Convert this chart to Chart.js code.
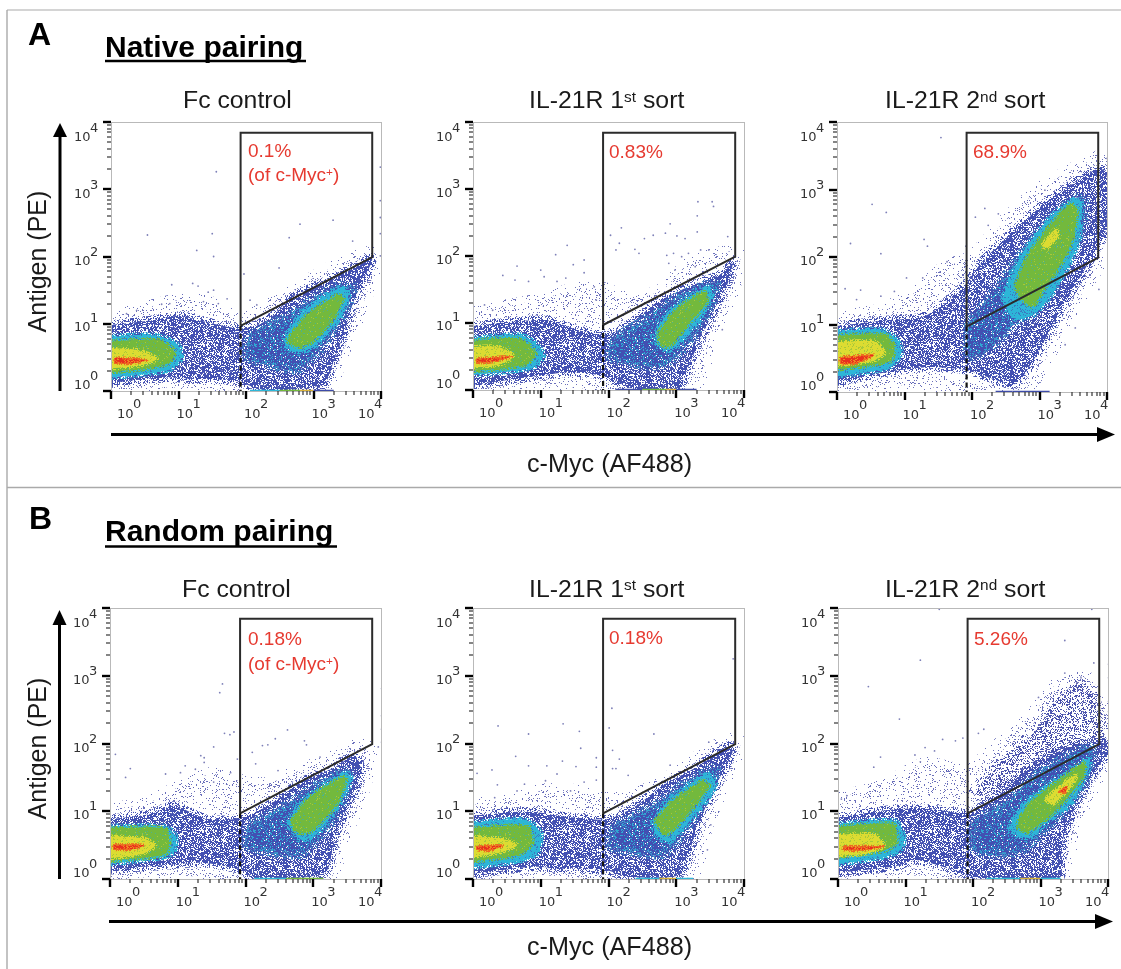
<!DOCTYPE html>
<html>
<head>
<meta charset="utf-8">
<script src="https://cdn.jsdelivr.net/npm/chart.js@4"></script>
<style>
html,body{margin:0;padding:0;background:#fff;}
body{width:1121px;height:969px;position:relative;overflow:hidden;font-family:"Liberation Sans",Arial,sans-serif;}
#stage{position:absolute;left:0;top:0;width:1121px;height:969px;filter:blur(0.55px);}
canvas{position:absolute;}
.t{position:absolute;white-space:nowrap;line-height:1em;color:#1a1a1a;}
.t sup{font-size:.62em;line-height:0;vertical-align:baseline;position:relative;top:-.42em;}
.red{color:#e63a30;}
.b{font-weight:bold;color:#000;}
svg{position:absolute;left:0;top:0;}
</style>
</head>
<body>
<div id="stage"></div>
<script>
const axisMajorTicks = [1, 10, 100, 1000, 10000];
const axisMinorSteps = [2, 3, 4, 5, 6, 7, 8, 9];
const tickExponentLabels = ['0', '1', '2', '3', '4'];
const gateOutline = [[1.92,0.97],[1.92,3.84],[3.87,3.84],[3.87,1.99],[1.92,0.97]];
const gateDashed = [[1.92,0.97],[1.92,0]];

// Panel A1: Fc control, native pairing
const a1Sparse = [[-0.5,0.97],[0.4,1.2],[1,1.35],[1.5,1.3],[1.9,1.05],[2.2,1.2],[2.7,1.5],[3.3,1.85],[3.8,2.05],[3.95,2],[3.7,1.2],[3.4,0.5],[3.2,0.02],[2,0],[1.2,0.05],[0.5,0.05],[-0.5,0.05]];
const a1Blue = [[-0.5,0.93],[0.58,1.05],[1.02,1.12],[1.32,1.05],[1.92,0.93],[2.31,1.05],[2.71,1.4],[3.3,1.69],[3.7,1.89],[3.87,1.99],[3.85,1.89],[3.6,1.35],[3.45,0.85],[3.3,0.45],[3.15,0.1],[2.31,0.01],[1.96,0.11],[1.82,0.16],[1.22,0.18],[0.83,0.2],[-0.5,0.16]];
const a1Mid = [[2.05,0.85],[2.65,1.15],[3.3,1.55],[3.6,1.55],[3.4,1.05],[3.05,0.55],[2.75,0.3],[2.3,0.4],[2,0.5]];
const a1CyanL = [[-0.5,0.78],[0.63,0.83],[0.98,0.7],[1.05,0.5],[0.83,0.3],[-0.5,0.23]];
const a1GreenL = [[-0.5,0.7],[0.68,0.76],[0.93,0.6],[0.88,0.43],[0.48,0.33],[-0.5,0.3]];
const a1YellowL = [[-0.5,0.62],[0.33,0.62],[0.68,0.48],[0.43,0.38],[-0.5,0.34]];
const a1RedL = [[0.06,0.5],[0.53,0.46],[0.33,0.41],[0.06,0.42]];
const a1CyanR = [[2.56,0.75],[2.81,1.15],[3.4,1.54],[3.52,1.45],[3.4,1.1],[3.05,0.7],[2.81,0.58],[2.6,0.65]];
const a1GreenR = [[2.61,0.75],[2.9,1.12],[3.35,1.42],[3.44,1.38],[3.3,1.08],[2.96,0.72],[2.76,0.66]];
const a1Dots = [[1.56,3.26],[0.54,2.32],[1.5,2.34],[1.27,2.09],[1.52,2],[0.9,1.58],[1.21,1.6],[1.29,1.56],[1.97,1.74],[2.49,1.83],[2.64,2.28],[2.8,2.48],[3.29,2.54],[3.58,2.23],[3.99,3.33],[3.99,2.83],[3.99,2.58],[3.99,2.34],[3.99,2.01],[1.52,1.5],[1.44,1.47],[0.75,1.29],[0.87,1.3],[1.72,1.37],[2.06,1.35],[2.16,1.28],[0.23,1.15],[0.38,1.2],[1.37,1.33],[1.59,1.3]];
const a1Strip = [[2.06,0,'#2fb8d8'],[2.5,0,'#73b83d'],[2.8,0,'#d9b23a'],[3,0,'#3d4ba8'],[3.3,0,'#3d4ba8']];

// Panel A2: IL-21R 1st sort, native pairing
const a2Sparse = [[-0.5,1.1],[0.5,1.25],[1,1.35],[1.5,1.5],[1.95,1.5],[2.3,1.35],[2.8,1.5],[3.2,1.9],[3.7,2.05],[3.95,2.05],[3.8,1.4],[3.5,0.8],[3.3,0.1],[2,0],[1,0.08],[-0.5,0.05]];
const a2Blue = [[-0.5,0.9],[0.6,1.02],[1.09,1.04],[1.54,0.9],[1.97,0.82],[2.39,1.04],[2.69,1.29],[3.18,1.54],[3.68,1.74],[3.83,1.89],[3.76,1.59],[3.58,1.24],[3.33,0.7],[3.18,0.35],[3.03,0.02],[2.39,0.01],[1.97,0.2],[1.44,0.27],[0.9,0.2],[-0.5,0.1]];
const a2Mid = [[2.1,0.8],[2.6,1.1],[3.1,1.45],[3.6,1.6],[3.45,1.1],[3.1,0.6],[2.8,0.35],[2.3,0.4],[2,0.5]];
const a2CyanL = [[-0.5,0.72],[0.7,0.82],[0.97,0.65],[1.04,0.5],[0.85,0.32],[-0.5,0.25]];
const a2GreenL = [[-0.5,0.67],[0.65,0.77],[0.92,0.55],[0.75,0.37],[-0.5,0.3]];
const a2YellowL = [[-0.5,0.6],[0.35,0.65],[0.6,0.5],[0.35,0.37],[-0.5,0.35]];
const a2RedL = [[0.06,0.47],[0.57,0.5],[0.3,0.42],[0.06,0.41]];
const a2CyanR = [[2.69,0.85],[2.91,1.19],[3.48,1.54],[3.53,1.39],[3.23,0.9],[2.91,0.6],[2.74,0.65]];
const a2GreenR = [[2.74,0.85],[2.99,1.19],[3.41,1.46],[3.45,1.31],[3.13,0.93],[2.89,0.65],[2.76,0.7]];
const a2Dots = [[3.32,2.81],[3.53,2.81],[3.55,2.74],[3.31,2.6],[2.91,2.48],[2.19,2.42],[2.03,2.31],[2.16,2.19],[2.11,2.09],[2.39,2.1],[2.45,2.04],[2.53,2.26],[2.66,2.31],[2.84,2.34],[3.01,2.3],[3.13,2.26],[3.31,2.36],[3.76,2.29],[1.39,2.16],[1.22,2.02],[1,1.79],[0.65,1.85],[0.44,1.71],[0.82,1.62],[0.62,1.64],[1.05,1.69],[1.24,1.62],[1.37,1.67],[1.48,1.87],[1.64,1.94],[1.64,1.75],[1.79,1.54],[1.82,1.34],[0.29,1.19],[0.17,1.27],[4.02,2.99],[4.02,2.51],[4.02,2.39],[4.02,2.24],[4.02,2.04],[2.86,2.01],[2.96,2.04],[3.08,1.99],[3.18,2.04],[3.36,2.09],[3.48,2.09],[3.28,1.84],[2.98,1.79],[2.89,1.89],[3.68,0.9]];
const a2Strip = [[2.1,0,'#3d4ba8'],[2.5,0,'#73b83d'],[2.85,0,'#d9b23a'],[3,0,'#3d4ba8'],[3.3,0,'#3d4ba8']];

// Panel A3: IL-21R 2nd sort, native pairing
const a3Sparse = [[-0.5,1.05],[0.6,1.2],[1.2,1.5],[1.6,1.85],[2,2],[2.5,2.55],[3,3],[3.5,3.3],[3.95,3.5],[4.05,3.4],[4.05,2.2],[3.7,1.6],[3.4,1],[3.1,0.5],[2.8,0.05],[2,0.02],[1,0.1],[-0.5,0.05]];
const a3Blue = [[-0.5,0.92],[0.8,1.07],[1.29,1.12],[1.84,1.52],[2.14,1.92],[2.54,2.31],[3.03,2.76],[3.53,3.11],[3.88,3.31],[4.03,3.2],[4.03,2.51],[3.73,1.92],[3.43,1.42],[3.13,0.87],[2.94,0.52],[2.64,0.12],[2.24,0.22],[1.94,0.32],[1.39,0.37],[0.9,0.32],[-0.5,0.15]];
const a3Mid = [[1.94,1.02],[2.34,1.52],[2.89,2.26],[3.48,2.86],[3.68,2.86],[3.63,2.41],[3.38,1.82],[3.03,1.32],[2.64,1.02],[2.24,0.62],[1.94,0.52]];
const a3CyanL = [[-0.5,0.87],[0.65,0.92],[0.9,0.77],[0.95,0.57],[0.75,0.35],[-0.5,0.25]];
const a3GreenL = [[-0.5,0.8],[0.7,0.85],[0.85,0.67],[0.77,0.45],[-0.5,0.35]];
const a3YellowL = [[-0.5,0.7],[0.55,0.75],[0.7,0.57],[0.5,0.45],[-0.5,0.4]];
const a3RedL = [[0.05,0.52],[0.55,0.55],[0.3,0.43],[0.05,0.42]];
const a3CyanR = [[2.45,1.4],[2.72,2],[3.15,2.58],[3.5,2.85],[3.62,2.8],[3.57,2.2],[3.25,1.55],[2.92,1.15],[2.6,1.1]];
const a3GreenR = [[2.64,1.57],[2.84,2.03],[3.23,2.55],[3.45,2.78],[3.55,2.72],[3.5,2.3],[3.35,1.95],[3.08,1.55],[2.89,1.27],[2.71,1.42]];
const a3YellowR = [[3.03,2.16],[3.23,2.41],[3.28,2.31],[3.13,2.14]];
const a3Dots = [[1.54,3.77],[0.52,2.78],[0.73,2.66],[0.2,2.2],[0.65,2.05],[1.29,2.26],[1.34,2.16],[1.63,1.93],[2.19,2.72],[2.05,2.59],[2.39,2.64],[2.24,2.47],[3.08,2.99],[1.91,2.16],[1.03,1.69],[1.27,1.69],[0.35,1.51],[0.12,1.53],[0.29,1.37],[0.65,1.42],[0.85,1.49],[4,3.46],[4,3.2],[4,2.85],[4,2.56],[3.88,1.52],[3.53,0.95],[3.38,0.7]];
const a3Strip = [[2.35,0,'#3d4ba8'],[2.6,0,'#3d4ba8'],[3.15,0,'#3d4ba8']];

// Panel B1: Fc control, random pairing
const b1Sparse = [[-0.5,1],[0.5,1.1],[1,1.35],[1.5,1.55],[1.9,1.45],[2.3,1.4],[2.8,1.6],[3.3,1.8],[3.65,1.97],[3.85,1.9],[3.7,1.2],[3.4,0.5],[3.25,0.02],[2,0],[1,0.05],[-0.5,0.05]];
const b1Blue = [[-0.5,0.83],[0.6,0.96],[0.94,1.08],[1.44,0.88],[1.93,0.9],[2.33,1.08],[2.82,1.43],[3.32,1.65],[3.61,1.82],[3.71,1.57],[3.51,1.08],[3.32,0.63],[3.17,0.09],[2.13,0.01],[1.93,0.14],[1.34,0.24],[0.6,0.19],[-0.5,0.16]];
const b1Mid = [[2.05,0.8],[2.6,1.1],[3.2,1.5],[3.55,1.6],[3.4,1.05],[3.1,0.6],[2.8,0.35],[2.3,0.4],[2,0.5]];
const b1CyanL = [[-0.5,0.76],[0.8,0.78],[0.97,0.63],[0.94,0.39],[0.6,0.29],[-0.5,0.24]];
const b1GreenL = [[-0.5,0.71],[0.82,0.74],[0.84,0.39],[0.45,0.31],[-0.5,0.29]];
const b1YellowL = [[-0.5,0.63],[0.45,0.61],[0.67,0.5],[0.45,0.36],[-0.5,0.31]];
const b1RedL = [[0.05,0.51],[0.5,0.5],[0.35,0.44],[0.05,0.44]];
const b1CyanR = [[2.62,0.81],[2.82,1.13],[3.47,1.57],[3.56,1.48],[3.37,1.08],[3.02,0.63],[2.82,0.58]];
const b1GreenR = [[2.67,0.83],[2.92,1.18],[3.47,1.5],[3.36,1.13],[2.97,0.71],[2.77,0.69]];
const b1Dots = [[1.66,2.88],[1.62,2.75],[0.08,1.84],[0.3,1.63],[0.23,1.5],[1.69,2.15],[1.77,2.13],[1.83,2.17],[1.53,1.95],[1.34,1.82],[1.39,1.79],[1.11,1.67],[1.26,1.62],[1.39,1.72],[2.62,2.2],[2.44,2.07],[2.25,1.97],[2.33,1.98],[2.1,1.87],[2.15,1.7],[2.87,2.04],[2.9,1.98],[3.1,1.8],[2.48,1.6],[4.01,2.81],[4.01,2.41],[4.01,2.21],[4.01,2.02],[3.96,1.95],[0.82,1.55],[1.04,1.57],[1.78,1.57],[1.88,1.77],[1.53,1.43]];
const b1Strip = [[2.13,0,'#2fb8d8'],[2.6,0,'#73b83d'],[2.95,0,'#73b83d'],[3.15,0,'#2fb8d8']];

// Panel B2: IL-21R 1st sort, random pairing
const b2Sparse = [[-0.5,1.05],[0.5,1.15],[1,1.3],[1.5,1.3],[1.95,1.2],[2.4,1.25],[2.9,1.5],[3.4,1.85],[3.8,2.05],[3.95,2],[3.7,1.4],[3.45,0.8],[3.2,0.03],[2,0],[1,0.05],[-0.5,0.03]];
const b2Blue = [[-0.5,0.88],[0.8,1],[1.29,0.93],[1.97,0.88],[2.39,1.07],[2.79,1.37],[3.33,1.67],[3.78,1.97],[3.83,1.87],[3.63,1.47],[3.33,0.83],[3.03,0.05],[2.29,0.03],[1.97,0.13],[1.34,0.15],[0.9,0.18],[-0.5,0.1]];
const b2Mid = [[2.1,0.8],[2.6,1.05],[3.1,1.4],[3.6,1.65],[3.4,1.1],[3.05,0.6],[2.8,0.35],[2.3,0.4],[2,0.5]];
const b2CyanL = [[-0.5,0.78],[0.75,0.88],[1,0.68],[0.95,0.38],[0.6,0.25],[-0.5,0.2]];
const b2GreenL = [[-0.5,0.7],[0.8,0.78],[0.87,0.53],[0.65,0.35],[-0.5,0.28]];
const b2YellowL = [[-0.5,0.63],[0.4,0.6],[0.65,0.5],[0.35,0.38],[-0.5,0.3]];
const b2RedL = [[0.06,0.49],[0.45,0.49],[0.25,0.42],[0.06,0.43]];
const b2CyanR = [[2.66,0.83],[2.89,1.17],[3.48,1.55],[3.58,1.37],[3.18,0.83],[2.89,0.55],[2.69,0.68]];
const b2GreenR = [[2.69,0.85],[2.94,1.14],[3.38,1.44],[3.48,1.37],[3.08,0.86],[2.84,0.66]];
const b2Dots = [[3.84,3.25],[2.05,2.52],[2.01,2.23],[0.37,2.26],[1.33,2.29],[0.82,2.14],[1.57,2.18],[2.67,2.14],[1.59,1.93],[0.63,1.81],[0.28,1.61],[0.06,1.56],[0.82,1.67],[1.09,1.67],[1.32,1.74],[1.52,1.66],[1.82,1.79],[2.16,1.77],[2.06,1.9],[2.06,1.63],[2.11,1.63],[2.29,1.53],[2.91,1.68],[3.48,2.02],[4.03,2.92],[4.03,2.42],[4.03,2.22],[4.03,2.07],[3.51,0.8],[3.46,0.43],[0.36,1.39],[0.76,1.4],[1.07,1.45],[1.24,1.55],[1.64,1.43],[1.82,1.46],[1.82,1.65],[1.44,1.3],[0.65,1.3],[0.32,1.2]];
const b2Strip = [[2.4,0,'#2fb8d8'],[2.75,0,'#d9b23a'],[3,0,'#2fb8d8'],[3.25,0,'#2fb8d8']];

// Panel B3: IL-21R 2nd sort, random pairing
const b3Sparse = [[-0.5,1.1],[0.6,1.35],[1.3,1.7],[1.9,1.6],[2.4,2],[2.9,2.45],[3.3,2.95],[3.65,3],[3.9,2.6],[4.05,2.1],[3.8,1.4],[3.55,0.9],[3.4,0.3],[3.3,0.02],[2,0],[1.3,0.05],[0.5,0.05],[-0.5,0.05]];
const b3Upper = [[2,1.25],[2.4,1.75],[2.9,2.15],[3.2,2.6],[3.55,2.9],[3.75,2.8],[3.85,2.45],[3.95,2],[3.3,1.85],[2.7,1.5],[2.3,1.25]];
const b3Blue = [[-0.5,0.83],[0.83,1.03],[1.38,1.03],[1.93,0.98],[2.37,1.23],[2.72,1.53],[3.37,1.93],[3.92,2.02],[4.04,1.93],[3.77,1.53],[3.52,1.08],[3.32,0.53],[3.27,0.01],[2.12,0.01],[1.63,0.16],[1.13,0.28],[0.83,0.18],[-0.5,0.13]];
const b3Mid = [[1.98,0.85],[2.5,1.15],[3,1.6],[3.75,1.95],[3.7,1.5],[3.35,1],[3,0.65],[2.7,0.4],[2.3,0.35],[2,0.45]];
const b3CyanL = [[-0.5,0.76],[0.83,0.86],[0.98,0.63],[0.93,0.43],[0.63,0.31],[-0.5,0.23]];
const b3GreenL = [[-0.5,0.71],[0.81,0.81],[0.86,0.53],[0.63,0.41],[-0.5,0.33]];
const b3YellowL = [[-0.5,0.61],[0.53,0.66],[0.68,0.48],[0.33,0.36],[-0.5,0.38]];
const b3RedL = [[0.08,0.48],[0.68,0.48],[0.33,0.42],[0.08,0.43]];
const b3CyanR = [[2.52,0.76],[2.77,1.13],[3.42,1.58],[3.72,1.78],[3.72,1.63],[3.42,1.08],[3.07,0.83],[2.85,0.61],[2.62,0.66]];
const b3GreenR = [[2.65,0.78],[2.82,1.1],[3.37,1.52],[3.64,1.72],[3.64,1.53],[3.32,1.11],[2.92,0.76],[2.77,0.69]];
const b3YellowR = [[3.07,1.18],[3.42,1.48],[3.54,1.53],[3.42,1.33],[3.17,1.1]];
const b3RedR = [[3.27,1.3],[3.39,1.37],[3.37,1.28],[3.29,1.27]];
const b3Dots = [[1.5,3.98],[3.76,3.98],[1.22,3.23],[0.45,2.84],[0.91,2.36],[3.36,3.52],[3.79,3.19],[3.36,3.04],[2.97,2.68],[2.16,2.21],[2.08,2.15],[1.55,2.06],[1.74,2.04],[1.85,2.08],[1.43,1.89],[1.29,1.94],[1.14,1.83],[1.22,1.73],[0.63,1.8],[0.53,1.65],[4.01,3.17],[4.01,2.97],[4.01,2.62],[4.01,2.47],[4.03,2.22],[3.54,2.9],[3.6,2.97],[0.05,1.18],[0.13,1.23],[3.57,0.98],[3.48,0.68]];
const b3Strip = [[2.2,0,'#2fb8d8'],[2.7,0,'#d9b23a'],[3,0,'#2fb8d8'],[3.3,0,'#2fb8d8']];

const panelLayers = [
  {sparse:a1Sparse,blue:a1Blue,mid:a1Mid,cyan:[a1CyanL,a1CyanR],green:[a1GreenL,a1GreenR],yellow:[a1YellowL],red:[a1RedL],dots:a1Dots,strip:a1Strip},
  {sparse:a2Sparse,blue:a2Blue,mid:a2Mid,cyan:[a2CyanL,a2CyanR],green:[a2GreenL,a2GreenR],yellow:[a2YellowL],red:[a2RedL],dots:a2Dots,strip:a2Strip},
  {sparse:a3Sparse,blue:a3Blue,mid:a3Mid,cyan:[a3CyanL,a3CyanR],green:[a3GreenL,a3GreenR],yellow:[a3YellowL,a3YellowR],red:[a3RedL],dots:a3Dots,strip:a3Strip},
  {sparse:b1Sparse,blue:b1Blue,mid:b1Mid,cyan:[b1CyanL,b1CyanR],green:[b1GreenL,b1GreenR],yellow:[b1YellowL],red:[b1RedL],dots:b1Dots,strip:b1Strip},
  {sparse:b2Sparse,blue:b2Blue,mid:b2Mid,cyan:[b2CyanL,b2CyanR],green:[b2GreenL,b2GreenR],yellow:[b2YellowL],red:[b2RedL],dots:b2Dots,strip:b2Strip},
  {sparse:b3Sparse,upper:b3Upper,blue:b3Blue,mid:b3Mid,cyan:[b3CyanL,b3CyanR],green:[b3GreenL,b3GreenR],yellow:[b3YellowL,b3YellowR],red:[b3RedL,b3RedR],dots:b3Dots,strip:b3Strip}
];

// Layout only
const plotBoxes = [
  [111,122,270,269],[473,122,271,268],[837,122,270,270],
  [110,608,271,271],[473,608,271,271],[838,608,270,271]
];
const PAD = {left:50, right:15, top:15, bottom:50};

// Stipple textures (style only): a fixed integer mix decides which pixels of a tile get a fleck.
let tileSeed = 1;
function speckle(base, flecks){
  const S = 127, c = document.createElement('canvas'); c.width = c.height = S;
  const g = c.getContext('2d');
  if (base){ g.fillStyle = base; g.fillRect(0,0,S,S); }
  const seed = tileSeed++;
  for (let y=0;y<S;y++) for (let x=0;x<S;x++){
    let h = Math.imul(x+1, 73856093) ^ Math.imul(y+1, 19349663) ^ Math.imul(seed, 83492791);
    h ^= h>>>16; h = Math.imul(h, 2246822507); h ^= h>>>13; h = Math.imul(h, 3266489909); h ^= h>>>16;
    const u = (h>>>0)/4294967296;
    let acc = 0;
    for (const [col, d] of flecks){ acc += d; if (u < acc){ g.fillStyle = col; g.fillRect(x,y,1,1); break; } }
  }
  return g.createPattern(c,'repeat');
}
const fills = {
  sparse: speckle(null,[['rgba(70,76,170,0.8)',0.09]]),
  upper: speckle(null,[['rgba(62,72,168,0.95)',0.3]]),
  blue: speckle(null,[['#4250b2',0.62]]),
  mid: speckle('#4250b2',[['#2fa9d4',0.2],['#ffffff',0.05]]),
  cyan: speckle('#2db6d8',[['#3c78c0',0.14]]),
  green: speckle('#73b93d',[['#4fb38a',0.06],['#a8c83a',0.04]]),
  yellow: speckle('#dcdc32',[['#a8c83a',0.14]]),
  red: speckle('#e8301e',[['#f08a20',0.2]])
};
const edges = {
  sparse: speckle(null,[['rgba(70,76,170,0.8)',0.04]]),
  upper: speckle(null,[['rgba(62,72,168,0.9)',0.14]]),
  blue: speckle(null,[['#4250b2',0.3]]),
  mid: speckle(null,[['#3f8fc8',0.22]]),
  cyan: speckle(null,[['#2db6d8',0.45]]),
  green: speckle(null,[['#73b93d',0.45]]),
  yellow: speckle(null,[['#dcdc32',0.4]]),
  red: speckle(null,[['#ee6a20',0.5]])
};
const edgeWidths = {sparse:14, upper:12, blue:9, mid:8, cyan:5, green:5, yellow:4, red:3};

const pts = a => a.map(([x,y]) => ({x:10**x, y:10**y}));
const shape = (poly, kind) => ({data:pts(poly.concat([poly[0]])), showLine:true, fill:'shape', backgroundColor:fills[kind], borderColor:edges[kind], borderWidth:edgeWidths[kind], pointRadius:0, tension:0.25});
const line = (poly, color, width, dash) => ({data:pts(poly), showLine:true, fill:false, borderColor:color, borderWidth:width, borderDash:dash||[], pointRadius:0, tension:0});

const axisFrame = {
  id:'axisFrame',
  afterDraw(chart){
    const {ctx, chartArea:a, scales:{x, y}} = chart;
    ctx.save();
    ctx.strokeStyle = '#b9b9b9'; ctx.lineWidth = 1;
    ctx.strokeRect(a.left+.5, a.top+.5, a.right-a.left, a.bottom-a.top);
    x.ticks.forEach(t => {
      const px = Math.round(x.getPixelForValue(t.value));
      ctx.lineWidth = t.major ? 2.4 : 1.2;
      ctx.strokeStyle = t.major ? '#000' : '#333';
      ctx.beginPath(); ctx.moveTo(px, a.bottom); ctx.lineTo(px, a.bottom + (t.major ? 8 : 4)); ctx.stroke();
    });
    y.ticks.forEach(t => {
      const py = Math.round(y.getPixelForValue(t.value));
      ctx.lineWidth = t.major ? 2.4 : 1.2;
      ctx.strokeStyle = t.major ? '#000' : '#333';
      ctx.beginPath(); ctx.moveTo(a.left, py); ctx.lineTo(a.left - (t.major ? 8 : 4), py); ctx.stroke();
    });
    ctx.font = '13px "DejaVu Sans"'; ctx.fillStyle = '#333'; ctx.textBaseline = 'middle'; ctx.textAlign = 'left';
    const xShift = [6,-2,-2,-2,-23], yShift = [-5,4,5,5,16];
    axisMajorTicks.forEach((v,i) => {
      const px = x.getPixelForValue(v) + xShift[i], py = a.bottom + 24;
      ctx.fillText('10', px, py); ctx.fillText(tickExponentLabels[i], px+16, py-10);
      const qy = y.getPixelForValue(v) + yShift[i], qx = a.left - 37;
      ctx.fillText('10', qx, qy); ctx.fillText(tickExponentLabels[i], qx+16, qy-9);
    });
    ctx.restore();
  }
};

const allMajorAndMinor = () => {
  const list = [];
  axisMajorTicks.forEach((m,i) => {
    list.push({value:m, major:true});
    if (i < axisMajorTicks.length-1) axisMinorSteps.forEach(s => list.push({value:m*s, major:false}));
  });
  return list;
};

const stage = document.getElementById('stage');
panelLayers.forEach((p,i) => {
  const [L,T,W,H] = plotBoxes[i];
  const cv = document.createElement('canvas');
  cv.width = W+PAD.left+PAD.right; cv.height = H+PAD.top+PAD.bottom;
  cv.style.left = (L-PAD.left)+'px'; cv.style.top = (T-PAD.top)+'px';
  cv.style.width = cv.width+'px'; cv.style.height = cv.height+'px';
  stage.appendChild(cv);
  const bottomUp = [shape(p.sparse, 'sparse')];
  if (p.upper) bottomUp.push(shape(p.upper, 'upper'));
  bottomUp.push(shape(p.blue, 'blue'), shape(p.mid, 'mid'));
  p.cyan.forEach(s => bottomUp.push(shape(s, 'cyan')));
  p.green.forEach(s => bottomUp.push(shape(s, 'green')));
  p.yellow.forEach(s => bottomUp.push(shape(s, 'yellow')));
  p.red.forEach(s => bottomUp.push(shape(s, 'red')));
  bottomUp.push({data:pts(p.dots), backgroundColor:'#7e80b8', borderWidth:0, pointRadius:0.9, showLine:false});
  for (let k=0;k<p.strip.length-1;k++){
    bottomUp.push(line([p.strip[k].slice(0,2), p.strip[k+1].slice(0,2)], p.strip[k][2], 2.5));
  }
  bottomUp.push(line(gateOutline, '#2b2b2b', 2), line(gateDashed, '#111', 2.2, [5,3]));
  const axis = {
    type:'logarithmic', min:1, max:10000,
    afterBuildTicks(s){ s.ticks = allMajorAndMinor(); },
    ticks:{display:false}, grid:{display:false, drawTicks:false}, border:{display:false}
  };
  new Chart(cv, {
    type:'scatter',
    data:{datasets:bottomUp.reverse()},
    options:{
      responsive:false, animation:false, devicePixelRatio:1,
      layout:{padding:PAD},
      scales:{x:axis, y:{...axis}},
      plugins:{legend:{display:false}, tooltip:{enabled:false}, title:{display:false}}
    },
    plugins:[axisFrame]
  });
});

// Text labels: [html, left, baseline, size, class]
const headingLabels = [['A',28,45,32,'b'],['B',29,529,32,'b']];
const sectionLabels = [['Native pairing',105,57.5,30],['Random pairing',105,541.5,30]];
const panelTitles = [
  ['Fc control',183,109],['IL-21R 1<sup>st</sup> sort',529,109],['IL-21R 2<sup>nd</sup> sort',885,109],
  ['Fc control',182,597.5],['IL-21R 1<sup>st</sup> sort',529,597.5],['IL-21R 2<sup>nd</sup> sort',885,597.5]
];
const gateLabels = [
  ['0.1%',248,157],['(of c-Myc<sup>+</sup>)',248,181.5],['0.83%',609,158],['68.9%',973,158],
  ['0.18%',248,645],['(of c-Myc<sup>+</sup>)',248,670.5],['0.18%',609,644.5],['5.26%',974,645]
];
const xAxisLabels = [['c-Myc (AF488)',527,472],['c-Myc (AF488)',527,955]];
const yAxisLabels = [['Antigen (PE)',37,261],['Antigen (PE)',37,748]];

function addText(html,x,base,size,cls,extra){
  const d=document.createElement('div'); d.className='t '+(cls||''); d.innerHTML=html;
  d.style.left=x+'px'; d.style.top=(base-0.8465*size)+'px'; d.style.fontSize=size+'px';
  if(extra) Object.assign(d.style,extra); stage.appendChild(d); return d;
}
headingLabels.forEach(([h,x,b,s,c])=>addText(h,x,b,s,c));
sectionLabels.forEach(([h,x,b,s])=>addText(h,x,b,s,'b',{}));
panelTitles.forEach(([h,x,b])=>addText(h,x,b,24.8));
gateLabels.forEach(([h,x,b])=>addText(h,x,b,19,'red'));
xAxisLabels.forEach(([h,x,b])=>addText(h,x,b,25.2));
yAxisLabels.forEach(([h,cx,cy])=>{
  const d=addText(h,cx,cy,25); d.style.top=(cy-12.5)+'px';
  d.style.transform='translate(-50%,0) rotate(-90deg)';
});

// Frame lines, underlines and arrows
const ns='http://www.w3.org/2000/svg';
const svg=document.createElementNS(ns,'svg'); svg.setAttribute('width',1121); svg.setAttribute('height',969);
const frameSegs=[[7,10,1121,10,'#aaa',1.2],[7,10,7,969,'#aaa',1.4],[7,487.5,1121,487.5,'#aaa',1.4],
  [105,61,306,61,'#000',2.6],[105,546.5,337,546.5,'#000',2.6],
  [111,434.5,1100,434.5,'#000',3],[109,921.5,1098,921.5,'#000',3],
  [60,391,60,135,'#000',3],[59.5,879,59.5,623,'#000',3]];
frameSegs.forEach(([a,b,c,d,col,w])=>{const l=document.createElementNS(ns,'line');
  l.setAttribute('x1',a);l.setAttribute('y1',b);l.setAttribute('x2',c);l.setAttribute('y2',d);
  l.setAttribute('stroke',col);l.setAttribute('stroke-width',w);svg.appendChild(l);});
['1097,427 1115,434.5 1097,442','1095,914 1113,921.5 1095,929','53,137 60,123 67,137','52.5,625 59.5,610 66.5,625'].forEach(s=>{
  const h=document.createElementNS(ns,'polygon');h.setAttribute('points',s);h.setAttribute('fill','#000');svg.appendChild(h);});
stage.appendChild(svg);
</script>
</body>
</html>
